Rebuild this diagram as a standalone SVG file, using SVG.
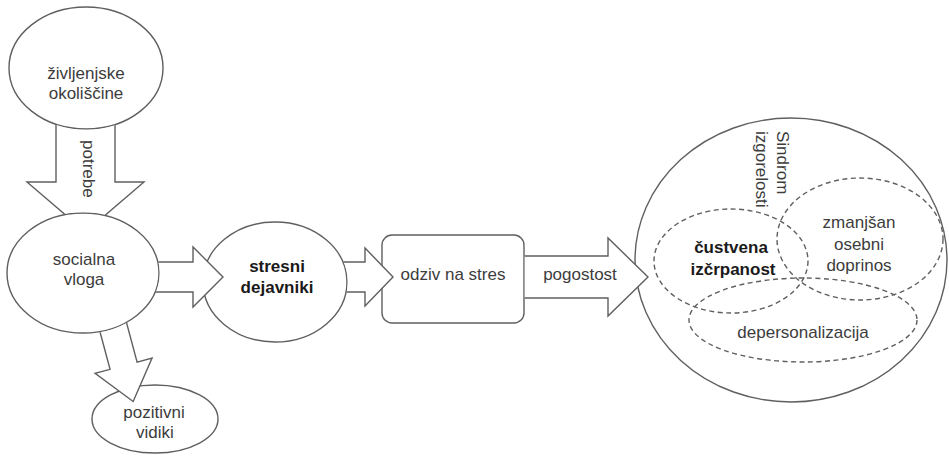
<svg xmlns="http://www.w3.org/2000/svg" width="949" height="456" viewBox="0 0 949 456">
<style>
  .node { fill: #ffffff; stroke: #5f5f5f; stroke-width: 1.4; }
  .dash { fill: none; stroke: #5f5f5f; stroke-width: 1.4; stroke-dasharray: 5 3.5; }
  .arrow { fill: #ffffff; stroke: #5f5f5f; stroke-width: 1.4; stroke-linejoin: miter; }
  .t { font-family: "Liberation Sans", Arial, sans-serif; font-size: 17px; fill: #3c3c3c; text-anchor: middle; }
  .b { font-weight: bold; fill: #1a1a1a; }
  .r { text-anchor: start; }
</style>
<defs>
  <mask id="m-potrebe" maskUnits="userSpaceOnUse" x="0" y="0" width="949" height="456">
    <rect x="0" y="0" width="949" height="456" fill="#fff"/>
    <ellipse cx="86" cy="68" rx="77.8" ry="61.8" fill="#000"/>
    <ellipse cx="83" cy="273" rx="76.8" ry="60.8" fill="#000"/>
  </mask>
  <mask id="m-socialna" maskUnits="userSpaceOnUse" x="0" y="0" width="949" height="456">
    <rect x="0" y="0" width="949" height="456" fill="#fff"/>
    <ellipse cx="83" cy="273" rx="76.8" ry="60.8" fill="#000"/>
  </mask>
  <mask id="m-stresni" maskUnits="userSpaceOnUse" x="0" y="0" width="949" height="456">
    <rect x="0" y="0" width="949" height="456" fill="#fff"/>
    <ellipse cx="275" cy="282" rx="72.8" ry="60.8" fill="#000"/>
  </mask>
  <mask id="m-odziv" maskUnits="userSpaceOnUse" x="0" y="0" width="949" height="456">
    <rect x="0" y="0" width="949" height="456" fill="#fff"/>
    <rect x="381.2" y="234.2" width="143.6" height="89.6" rx="10.8" fill="#000"/>
  </mask>
</defs>

<g id="n-zivljenjske">
  <ellipse class="node" cx="86" cy="68" rx="77" ry="61"/>
  <text class="t" x="86" y="79">življenjske</text>
  <text class="t" x="86" y="99">okoliščine</text>
</g>
<g id="n-socialna">
  <ellipse class="node" cx="83" cy="273" rx="76" ry="60"/>
  <text class="t" x="84" y="265">socialna</text>
  <text class="t" x="84" y="285">vloga</text>
</g>
<g id="n-stresni">
  <ellipse class="node" cx="275" cy="282" rx="72" ry="60"/>
  <text class="t b" x="277" y="272">stresni</text>
  <text class="t b" x="277" y="293">dejavniki</text>
</g>
<g id="n-pozitivni">
  <ellipse class="node" cx="155" cy="419" rx="63" ry="34"/>
  <text class="t" x="154" y="418">pozitivni</text>
  <text class="t" x="155" y="438">vidiki</text>
</g>
<g id="n-odziv">
  <rect class="node" x="382" y="235" width="142" height="88" rx="10"/>
  <text class="t" x="453" y="280">odziv na stres</text>
</g>
<g id="n-sindrom">
  <ellipse class="node" cx="791" cy="260" rx="156" ry="142"/>
  <text class="t r" transform="translate(777,131) rotate(90)">Sindrom</text>
  <text class="t r" transform="translate(756,131) rotate(90)">izgorelosti</text>
</g>
<g id="n-custvena">
  <ellipse class="dash" cx="731" cy="261" rx="77" ry="52"/>
  <text class="t b" x="731" y="253">čustvena</text>
  <text class="t b" x="733" y="275">izčrpanost</text>
</g>
<g id="n-zmanjsan">
  <ellipse class="dash" cx="860" cy="239" rx="83" ry="61"/>
  <text class="t" x="859" y="228">zmanjšan</text>
  <text class="t" x="859" y="250">osebni</text>
  <text class="t" x="859" y="271">doprinos</text>
</g>
<g id="n-depersonalizacija">
  <ellipse class="dash" cx="803" cy="320" rx="114" ry="42"/>
  <text class="t" x="803" y="338">depersonalizacija</text>
</g>

<g id="connectors">
  <g mask="url(#m-potrebe)">
    <polygon class="arrow" points="56,100 115,100 115,182 144,182 85.5,232 27,182 56,182"/>
  </g>
  <text class="t r" transform="translate(83,140) rotate(90)">potrebe</text>
  <g mask="url(#m-socialna)">
    <polygon class="arrow" points="130,262 193,262 193,247 223,277 193,307 193,292 130,292"/>
  </g>
  <g mask="url(#m-socialna)">
    <g transform="translate(114,330) rotate(-15)">
      <polygon class="arrow" points="-14,-30 14,-30 14,37 29.5,37 0,74 -29.5,37 -14,37"/>
    </g>
  </g>
  <g mask="url(#m-stresni)">
    <polygon class="arrow" points="320,262 365,262 365,248 393,277 365,306 365,292 320,292"/>
  </g>
  <g mask="url(#m-odziv)">
    <polygon class="arrow" points="500,256 608,256 608,238 648,277 608,316 608,298 500,298"/>
  </g>
  <text class="t" x="580" y="280">pogostost</text>
</g>
</svg>
